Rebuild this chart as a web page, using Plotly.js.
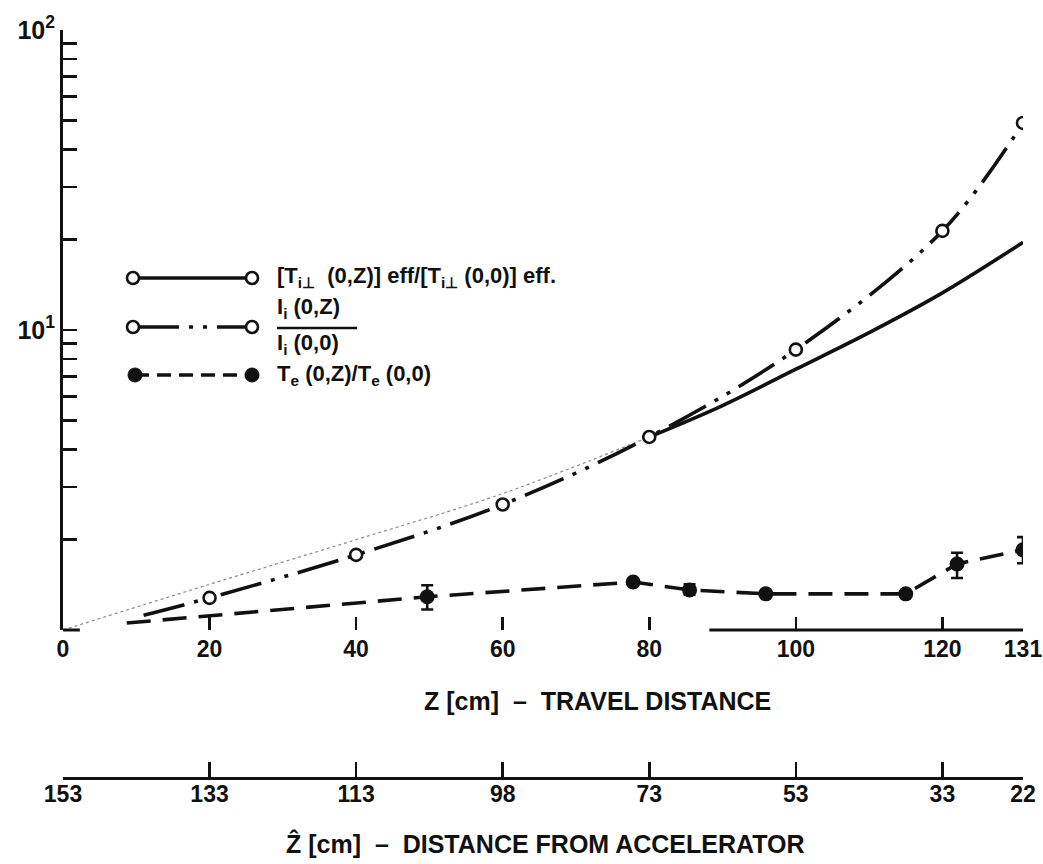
<!DOCTYPE html>
<html>
<head>
<meta charset="utf-8">
<script src="https://cdn.plot.ly/plotly-3.0.1.min.js"></script>
<style>html,body{margin:0;padding:0;background:#fff;}#chart{width:1043px;height:864px;}</style>
</head>
<body>
<div id="chart"></div>
<script>
// ---- data ----
// Z [cm] travel distance axis
const zTickVals = [0, 20, 40, 60, 80, 100, 120, 131];
const zTickText = ['0', '20', '40', '60', '80', '100', '120', '131'];
// Z-hat [cm] distance from accelerator (labels as printed)
const zHatTickText = ['153', '133', '113', '98', '73', '53', '33', '22'];
// log y ticks
const yMajorVals = [10, 100];
const yMajorText = ['10<sup>1</sup>', '10<sup>2</sup>'];
const yMinorVals = [2, 3, 4, 5, 6, 7, 8, 9, 20, 30, 40, 50, 60, 70, 80, 90];

// [T_i⊥(0,Z)]eff / [T_i⊥(0,0)]eff  (thin dotted extrapolation, then solid)
const tiDotZ = [0, 20, 40, 60, 80];
const tiDotVal = [1.0, 1.42, 2.0, 2.85, 4.4];
const tiZ = [80, 90, 100, 110, 120, 131];
const tiVal = [4.4, 5.6, 7.4, 9.8, 13.3, 19.6];

// I_i(0,Z)/I_i(0,0)  (dash-dot-dot, open circles; first value = start of curve)
const iiZ = [11, 20, 40, 60, 80, 100, 120, 131];
const iiVal = [1.12, 1.28, 1.78, 2.62, 4.4, 8.6, 21.4, 49];

// T_e(0,Z)/T_e(0,0)  (dashed, filled circles; first value = start of curve)
const teZ = [8.7, 49.7, 77.8, 85.5, 95.9, 115, 122, 131];
const teVal = [1.055, 1.29, 1.445, 1.36, 1.32, 1.32, 1.66, 1.85];
const teErrPlus = [0, 0.12, 0, 0.06, 0, 0, 0.15, 0.19];
const teErrMinus = [0, 0.12, 0, 0.05, 0, 0, 0.17, 0.18];

// ---- layout geometry (pixels) ----
const L = 63, R = 1023, T = 30, B = 778, YBOT = 630;
const fx = px => (px - L) / (R - L);
const fy = py => (B - py) / (B - T);

const FONT = 'Liberation Sans, Arial, Helvetica, sans-serif';
const INK = '#111';

const traces = [
  { x: tiDotZ, y: tiDotVal, mode: 'lines', line: { color: '#8a8a8a', width: 1.2, dash: 'dot', shape: 'spline' }, hoverinfo: 'skip', showlegend: false },
  { x: tiZ, y: tiVal, mode: 'lines', line: { color: INK, width: 3.6, shape: 'spline' }, showlegend: false },
  { x: iiZ, y: iiVal, mode: 'lines', line: { color: INK, width: 3.6, dash: '42px,10px,4px,10px,4px,10px', shape: 'spline' }, showlegend: false },
  { x: iiZ.slice(1), y: iiVal.slice(1), mode: 'markers', marker: { symbol: 'circle', size: 12, color: '#fff', line: { color: INK, width: 2.6 } }, showlegend: false },
  { x: teZ, y: teVal, mode: 'lines', line: { color: INK, width: 3.6, dash: '24px,12px' }, showlegend: false },
  { x: teZ.slice(1), y: teVal.slice(1), mode: 'markers', marker: { symbol: 'circle', size: 15, color: INK },
    error_y: { type: 'data', symmetric: false, array: teErrPlus.slice(1), arrayminus: teErrMinus.slice(1), color: INK, thickness: 2.6, width: 6 },
    showlegend: false },
  // empty traces that only activate the secondary axes
  { x: [], y: [], xaxis: 'x2', mode: 'markers', showlegend: false, hoverinfo: 'skip' },
  { x: [], y: [], yaxis: 'y2', mode: 'markers', showlegend: false, hoverinfo: 'skip' }
];

function openCircle(px, py) {
  return { type: 'circle', xref: 'paper', yref: 'paper', xsizemode: 'pixel', ysizemode: 'pixel',
    xanchor: fx(px), yanchor: fy(py), x0: -6, x1: 6, y0: -6, y1: 6,
    line: { color: INK, width: 2.6 }, fillcolor: '#fff' };
}
function filledCircle(px, py) {
  return { type: 'circle', xref: 'paper', yref: 'paper', xsizemode: 'pixel', ysizemode: 'pixel',
    xanchor: fx(px), yanchor: fy(py), x0: -7, x1: 7, y0: -7, y1: 7,
    line: { color: INK, width: 1 }, fillcolor: INK };
}
function hline(x0, x1, py, dash, w) {
  return { type: 'line', xref: 'paper', yref: 'paper', x0: fx(x0), x1: fx(x1), y0: fy(py), y1: fy(py),
    line: { color: INK, width: w || 3.6, dash: dash || 'solid' } };
}

const shapes = [
  // partial main x-axis line (as in reference)
  { type: 'line', xref: 'x', yref: 'y domain', x0: 0, x1: 2.3, y0: 0, y1: 0, line: { color: INK, width: 3 } },
  { type: 'line', xref: 'x', yref: 'y domain', x0: 88.2, x1: 131, y0: 0, y1: 0, line: { color: INK, width: 3 } },
  // legend samples
  hline(133, 252, 278, 'solid'),
  openCircle(133, 278), openCircle(252, 278),
  hline(133, 252, 327, '46px,10px,4px,10px,4px,10px'),
  openCircle(133, 327), openCircle(252, 327),
  hline(135, 252, 375, '14px,8px'),
  filledCircle(135, 375), filledCircle(252, 375),
  // fraction bar in legend
  hline(277, 357, 328, 'solid', 2.5)
];

const annFont = { family: FONT, size: 22, color: INK, weight: 700 };
const annotations = [
  { xref: 'paper', yref: 'paper', x: fx(275), y: fy(277), xanchor: 'left', yanchor: 'middle', showarrow: false,
    text: '[T<sub>i⊥</sub>  (0,Z)] eff/[T<sub>i⊥</sub> (0,0)] eff.', font: annFont },
  { xref: 'paper', yref: 'paper', x: fx(275), y: fy(308), xanchor: 'left', yanchor: 'middle', showarrow: false,
    text: 'I<sub>i</sub> (0,Z)', font: annFont },
  { xref: 'paper', yref: 'paper', x: fx(275), y: fy(344), xanchor: 'left', yanchor: 'middle', showarrow: false,
    text: 'I<sub>i</sub> (0,0)', font: annFont },
  { xref: 'paper', yref: 'paper', x: fx(275), y: fy(375), xanchor: 'left', yanchor: 'middle', showarrow: false,
    text: 'T<sub>e</sub> (0,Z)/T<sub>e</sub> (0,0)', font: annFont },
  { xref: 'paper', yref: 'paper', x: fx(597), y: fy(701), xanchor: 'center', yanchor: 'middle', showarrow: false,
    text: 'Z [cm]  –  TRAVEL DISTANCE', font: { family: FONT, size: 25, color: INK, weight: 700 } },
  { xref: 'paper', yref: 'paper', x: fx(545), y: fy(844), xanchor: 'center', yanchor: 'middle', showarrow: false,
    text: 'Ẑ [cm]  –  DISTANCE FROM ACCELERATOR', font: { family: FONT, size: 25, color: INK, weight: 700 } }
];

const tickFont = { family: FONT, size: 23, color: INK, weight: 700 };

const layout = {
  width: 1043, height: 864,
  margin: { l: L, r: 1043 - R, t: T, b: 864 - B, pad: 0 },
  paper_bgcolor: '#fff', plot_bgcolor: 'rgba(0,0,0,0)',
  showlegend: false,
  xaxis: {
    range: [0, 131], anchor: 'y', showgrid: false, zeroline: false, showline: false,
    tickmode: 'array', tickvals: zTickVals, ticktext: zTickText,
    ticks: 'inside', ticklen: 13, tickwidth: 2.5, tickcolor: INK,
    tickfont: tickFont, ticklabelstandoff: 3
  },
  xaxis2: {
    range: [0, 131], overlaying: 'x', anchor: 'free', position: 0, side: 'bottom',
    showgrid: false, zeroline: false, showline: true, linecolor: INK, linewidth: 2.5,
    tickmode: 'array', tickvals: zTickVals, ticktext: zHatTickText,
    ticks: 'inside', ticklen: 15, tickwidth: 2.5, tickcolor: INK,
    tickfont: tickFont, ticklabelstandoff: -5
  },
  yaxis: {
    type: 'log', range: [0, 2], domain: [fy(YBOT), 1],
    showgrid: false, zeroline: false, showline: true, linecolor: INK, linewidth: 3,
    tickmode: 'array', tickvals: yMajorVals, ticktext: yMajorText,
    ticks: 'inside', ticklen: 14, tickwidth: 2.5, tickcolor: INK,
    tickfont: { family: FONT, size: 25, color: INK, weight: 700 }
  },
  yaxis2: {
    type: 'log', range: [0, 2], overlaying: 'y', anchor: 'x', side: 'left',
    showgrid: false, zeroline: false, showline: false, showticklabels: false,
    tickmode: 'array', tickvals: yMinorVals,
    ticks: 'inside', ticklen: 14, tickwidth: 2.5, tickcolor: INK
  },
  shapes: shapes,
  annotations: annotations
};

Plotly.newPlot('chart', traces, layout, { staticPlot: true, displayModeBar: false });
</script>
</body>
</html>
